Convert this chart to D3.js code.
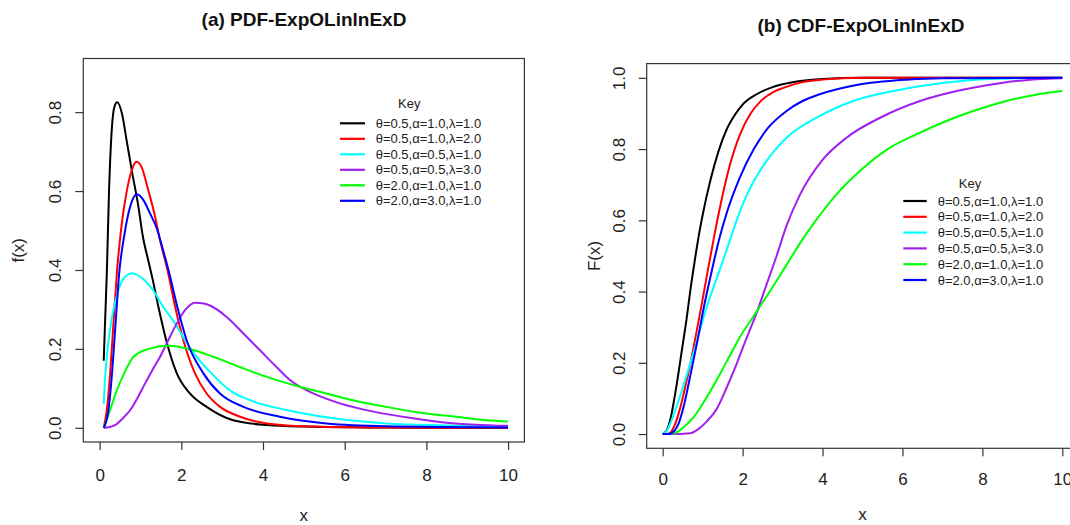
<!DOCTYPE html>
<html>
<head>
<meta charset="utf-8">
<script src="https://cdn.jsdelivr.net/npm/d3@7"></script>
<style>html,body{margin:0;padding:0;background:#fff;overflow:hidden}</style>
</head>
<body>
<svg id="chart" width="1070" height="525"></svg>
<script>
// ---------------- DATA ----------------
const seriesLabels = [
  "θ=0.5,α=1.0,λ=1.0",
  "θ=0.5,α=1.0,λ=2.0",
  "θ=0.5,α=0.5,λ=1.0",
  "θ=0.5,α=0.5,λ=3.0",
  "θ=2.0,α=1.0,λ=1.0",
  "θ=2.0,α=3.0,λ=1.0"
];
const seriesColors = ["#000000", "#FF0000", "#00FFFF", "#A020F0", "#00FF00", "#0000FF"];
const xTickValues = [0, 2, 4, 6, 8, 10];
const pdfTickValues = [0, 0.2, 0.4, 0.6, 0.8];
const cdfTickValues = [0, 0.2, 0.4, 0.6, 0.8, 1.0];

// PDF curves [x, f(x)]
const pdf1 = [[0.1,0.17],[0.13,0.26],[0.175,0.39],[0.23,0.60],[0.30,0.76],[0.36,0.813],[0.43,0.825],[0.55,0.795],[0.65,0.735],[0.80,0.645],[0.95,0.56],[1.05,0.49],[1.2,0.42],[1.3,0.375],[1.44,0.306],[1.63,0.222],[1.89,0.138],[2.21,0.087],[2.62,0.053],[3.27,0.019],[4.09,0.007],[5,0.003],[6.5,0.001],[8,0.0003],[10,0]];
const pdf2 = [[0.1,0],[0.175,0.045],[0.257,0.138],[0.338,0.264],[0.42,0.39],[0.542,0.517],[0.664,0.60],[0.786,0.652],[0.9,0.674],[1.03,0.66],[1.17,0.61],[1.34,0.543],[1.48,0.475],[1.68,0.391],[1.85,0.306],[2.05,0.222],[2.335,0.138],[2.62,0.087],[2.95,0.053],[3.44,0.028],[4.09,0.011],[5.23,0.003],[7,0.0005],[10,0]];
const pdf3 = [[0.1,0.06],[0.13,0.12],[0.175,0.18],[0.25,0.245],[0.3,0.28],[0.46,0.349],[0.62,0.383],[0.8,0.392],[0.95,0.386],[1.1,0.374],[1.3,0.35],[1.56,0.306],[1.85,0.264],[2.09,0.222],[2.376,0.18],[2.74,0.138],[3.19,0.095],[3.68,0.07],[4.58,0.045],[5.72,0.024],[7.02,0.011],[8.5,0.006],[10,0.003]];
const pdf4 = [[0.1,0],[0.25,0.002],[0.4,0.008],[0.55,0.022],[0.75,0.045],[0.95,0.08],[1.1,0.11],[1.3,0.148],[1.48,0.18],[1.68,0.222],[1.887,0.264],[2.09,0.298],[2.335,0.317],[2.55,0.315],[2.7,0.31],[3.11,0.281],[3.52,0.239],[3.92,0.197],[4.33,0.154],[4.66,0.121],[5.23,0.087],[5.88,0.062],[6.7,0.041],[7.67,0.024],[8.49,0.013],[9.2,0.008],[10,0.005]];
const pdf5 = [[0.1,0],[0.257,0.045],[0.42,0.095],[0.6,0.138],[0.83,0.18],[1.2,0.2],[1.68,0.208],[2.29,0.197],[2.78,0.18],[3.435,0.154],[4.09,0.129],[4.9,0.104],[5.55,0.087],[6.2,0.07],[7.02,0.053],[8.0,0.036],[8.73,0.028],[9.47,0.019],[10,0.016]];
const pdf6 = [[0.1,0],[0.216,0.045],[0.297,0.13],[0.379,0.247],[0.477,0.39],[0.607,0.49],[0.746,0.56],[0.909,0.592],[1.072,0.577],[1.235,0.543],[1.4,0.505],[1.5,0.47],[1.707,0.391],[1.903,0.306],[2.13,0.222],[2.54,0.138],[2.946,0.087],[3.52,0.053],[4.41,0.028],[5.55,0.011],[7.02,0.004],[10,0.001]];

// CDF curves [x, F(x)]
const cdf1 = [[0,0],[0.1,0.01],[0.2,0.045],[0.3,0.105],[0.4,0.175],[0.5,0.25],[0.6,0.325],[0.7,0.41],[0.8,0.485],[0.9,0.555],[1.0,0.615],[1.2,0.715],[1.4,0.795],[1.6,0.855],[1.8,0.895],[2.0,0.925],[2.35,0.954],[2.7,0.972],[3.0,0.982],[3.5,0.992],[4.0,0.997],[5,1.0],[10,1.0]];
const cdf2 = [[0,0],[0.1,0],[0.2,0.005],[0.3,0.025],[0.43,0.07],[0.55,0.125],[0.64,0.17],[0.81,0.265],[0.97,0.36],[1.13,0.46],[1.28,0.55],[1.45,0.645],[1.64,0.738],[1.93,0.84],[2.2,0.9],[2.43,0.932],[2.8,0.962],[3.02,0.972],[3.5,0.988],[4.0,0.995],[4.5,0.999],[5,1],[10,1]];
const cdf3 = [[0,0],[0.1,0.008],[0.22,0.038],[0.475,0.12],[0.81,0.243],[1.1,0.356],[1.39,0.449],[1.68,0.543],[1.85,0.6],[2.1,0.67],[2.6,0.767],[3.1,0.832],[3.85,0.888],[4.77,0.935],[5.77,0.963],[6.94,0.985],[8.19,0.997],[10,1.0]];
const cdf4 = [[0,0],[0.4,0],[0.68,0.002],[0.89,0.014],[1.1,0.035],[1.35,0.07],[1.6,0.13],[1.85,0.197],[2.1,0.27],[2.31,0.328],[2.6,0.42],[2.85,0.5],[3.1,0.585],[3.44,0.673],[3.98,0.767],[4.6,0.832],[5.44,0.888],[6.44,0.935],[7.36,0.963],[8.44,0.985],[9.2,0.995],[10,0.999]];
const cdf5 = [[0,0],[0.2,0.001],[0.35,0.005],[0.52,0.019],[0.77,0.047],[1.1,0.103],[1.43,0.168],[1.68,0.22],[1.93,0.272],[2.27,0.33],[2.68,0.40],[3.1,0.475],[3.52,0.55],[3.77,0.59],[4.35,0.673],[4.94,0.739],[5.6,0.798],[6.36,0.842],[7.1,0.879],[7.77,0.907],[8.6,0.935],[9.3,0.952],[10,0.963]];
const cdf6 = [[0,0],[0.15,0],[0.3,0.01],[0.4,0.03],[0.52,0.075],[0.7,0.169],[0.87,0.262],[1.03,0.356],[1.21,0.449],[1.42,0.55],[1.6,0.62],[1.93,0.72],[2.27,0.798],[2.64,0.86],[3.1,0.907],[3.5,0.935],[3.93,0.954],[4.85,0.98],[6.1,0.995],[7,0.999],[10,1]];

// ---------------- DRAWING ----------------
const FONT = "'Liberation Sans', Arial, Helvetica, sans-serif";
const INK = "#222";
const svg = d3.select("#chart");
svg.append("rect").attr("width",1070).attr("height",525).attr("fill","#fff");

const panels = [
  {
    series: [pdf1, pdf2, pdf3, pdf4, pdf5, pdf6],
    yTicks: pdfTickValues,
    xDomain: [-0.4, 10.4], yDomain: [-0.036, 0.936],
    left: 83.3, right: 524.4, top: 58.5, bottom: 442,
    title: "(a) PDF-ExpOLinlnExD", titleX: 304, titleY: 26,
    xLab: "x", xLabY: 521, yLab: "f(x)", yLabX: 24,
    xTickTextY: 27, yTickTextX: -22,
    keyX: 409.3, keyY: 103.3, legX1: 340, legX2: 365, legTX: 375.7, legY: 123.3, legStep: 15.5
  },
  {
    series: [cdf1, cdf2, cdf3, cdf4, cdf5, cdf6],
    yTicks: cdfTickValues,
    xDomain: [-0.4, 10.4], yDomain: [-0.04, 1.04],
    left: 646.7, right: 1078.3, top: 63.6, bottom: 448.3,
    title: "(b) CDF-ExpOLinlnExD", titleX: 861, titleY: 32,
    xLab: "x", xLabY: 520, yLab: "F(x)", yLabX: 600,
    xTickTextY: 24.5, yTickTextX: -21.7,
    keyX: 970, keyY: 183.3, legX1: 903.3, legX2: 926.7, legTX: 937.7, legY: 201, legStep: 15.8
  }
];

panels.forEach(p => {
  const g = svg.append("g");
  const x = d3.scaleLinear().domain(p.xDomain).range([p.left, p.right]);
  const y = d3.scaleLinear().domain(p.yDomain).range([p.bottom, p.top]);

  const line = d3.line().x(d => x(d[0])).y(d => y(d[1])).curve(d3.curveMonotoneX);
  p.series.forEach((s, i) => {
    g.append("path").attr("d", line(s)).attr("fill", "none")
      .attr("stroke", seriesColors[i]).attr("stroke-width", 2)
      .attr("stroke-linejoin", "round");
  });

  g.append("rect").attr("x", p.left).attr("y", p.top)
    .attr("width", p.right - p.left).attr("height", p.bottom - p.top)
    .attr("fill", "none").attr("stroke", "#333").attr("stroke-width", 1.2);

  const xa = g.append("g").attr("transform", `translate(0,${p.bottom})`)
    .call(d3.axisBottom(x).tickValues(xTickValues).tickFormat(d3.format("d")).tickSize(8).tickSizeOuter(0));
  xa.select(".domain").remove();
  xa.attr("font-size", 17).attr("font-family", FONT);
  xa.selectAll(".tick line").attr("stroke", "#333").attr("stroke-width", 1.2);
  xa.selectAll(".tick text").attr("y", p.xTickTextY).attr("fill", INK);

  const ya = g.append("g").attr("transform", `translate(${p.left},0)`)
    .call(d3.axisLeft(y).tickValues(p.yTicks).tickFormat(d3.format(".1f")).tickSize(8).tickSizeOuter(0));
  ya.select(".domain").remove();
  ya.attr("font-size", 17).attr("font-family", FONT);
  ya.selectAll(".tick line").attr("stroke", "#333").attr("stroke-width", 1.2);
  ya.selectAll(".tick text").attr("x", null).attr("dy", null).attr("y", null)
    .attr("text-anchor", "middle").attr("fill", INK)
    .attr("transform", `translate(${p.yTickTextX},0) rotate(-90)`);

  g.append("text").attr("x", p.titleX).attr("y", p.titleY).attr("text-anchor", "middle")
    .attr("font-family", FONT).attr("font-size", 19).attr("font-weight", "bold").attr("fill", "#111")
    .text(p.title);

  g.append("text").attr("x", (p.left + p.right) / 2).attr("y", p.xLabY).attr("text-anchor", "middle")
    .attr("font-family", FONT).attr("font-size", 17).attr("fill", INK).text(p.xLab);
  g.append("text").attr("transform", `translate(${p.yLabX},${(p.top + p.bottom) / 2}) rotate(-90)`)
    .attr("text-anchor", "middle").attr("font-family", FONT).attr("font-size", 17).attr("fill", INK).text(p.yLab);

  // legend
  g.append("text").attr("x", p.keyX).attr("y", p.keyY).attr("dy", "0.35em").attr("text-anchor", "middle")
    .attr("font-family", FONT).attr("font-size", 13).attr("fill", INK).text("Key");
  seriesLabels.forEach((lab, i) => {
    const yy = p.legY + i * p.legStep;
    g.append("line").attr("x1", p.legX1).attr("x2", p.legX2).attr("y1", yy).attr("y2", yy)
      .attr("stroke", seriesColors[i]).attr("stroke-width", 2.2);
    g.append("text").attr("x", p.legTX).attr("y", yy).attr("dy", "0.35em")
      .attr("font-family", FONT).attr("font-size", 13).attr("fill", INK).text(lab);
  });
});
</script>
</body>
</html>
